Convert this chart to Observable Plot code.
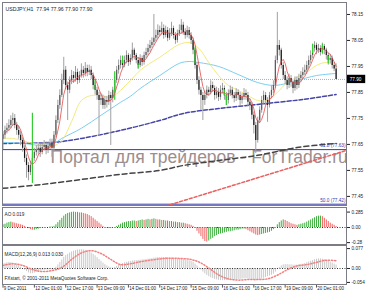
<!DOCTYPE html>
<html><head><meta charset="utf-8">
<script src="https://cdn.jsdelivr.net/npm/d3@7"></script>
<script src="https://cdn.jsdelivr.net/npm/@observablehq/plot@0.6"></script>
<style>
body{margin:0;background:#fff;}
#c{position:relative;width:366px;height:293px;overflow:hidden;background:#fff;}
#c svg{position:absolute;left:0;}
</style></head><body><div id="c"></div>
<script>
// ---------- DATA ----------
const opens=[77.670,77.685,77.704,77.712,77.723,77.742,77.750,77.723,77.704,77.685,
77.665,77.635,77.596,77.569,77.542,77.569,77.596,77.619,77.627,77.635,
77.619,77.638,77.646,77.627,77.642,77.654,77.635,77.685,77.742,77.800,
77.838,77.896,77.935,77.877,77.858,77.896,77.915,77.904,77.927,77.896,
77.915,77.935,77.923,77.942,77.927,77.935,77.915,77.877,77.858,77.838,
77.819,77.827,77.800,77.819,77.812,77.838,77.827,77.858,77.896,77.935,
77.954,77.973,77.954,77.973,77.992,77.965,77.981,78.012,77.992,77.973,
77.954,77.981,77.965,77.992,78.004,78.019,78.031,78.042,78.058,78.069,
78.088,78.081,78.096,78.069,78.088,78.058,78.077,78.096,78.069,78.050,
78.077,78.088,78.108,78.081,78.069,78.088,78.069,78.050,78.012,77.954,
77.896,77.858,77.838,77.819,77.838,77.858,77.850,77.877,77.865,77.838,
77.850,77.831,77.858,77.865,77.838,77.819,77.846,77.858,77.838,77.827,
77.850,77.838,77.819,77.831,77.846,77.838,77.812,77.800,77.762,77.723,
77.665,77.742,77.781,77.819,77.838,77.819,77.800,77.838,77.858,77.877,
77.973,78.031,78.012,77.954,77.915,77.896,77.877,77.904,77.888,77.865,
77.896,77.877,77.904,77.915,77.927,77.935,77.954,77.973,77.992,78.019,
78.031,78.012,78.019,78.004,78.027,78.012,77.992,77.973,77.981,77.954,77.940];
const closes=[77.685,77.704,77.712,77.723,77.742,77.750,77.723,77.704,77.685,77.665,
77.635,77.596,77.569,77.542,77.569,77.596,77.619,77.627,77.635,77.619,
77.638,77.646,77.627,77.642,77.654,77.635,77.685,77.742,77.800,77.838,
77.896,77.935,77.877,77.858,77.896,77.915,77.904,77.927,77.896,77.915,
77.935,77.923,77.942,77.927,77.935,77.915,77.877,77.858,77.838,77.819,
77.827,77.800,77.819,77.812,77.838,77.827,77.858,77.896,77.935,77.954,
77.973,77.954,77.973,77.992,77.965,77.981,78.012,77.992,77.973,77.954,
77.981,77.965,77.992,78.004,78.019,78.031,78.042,78.058,78.069,78.088,
78.081,78.096,78.069,78.088,78.058,78.077,78.096,78.069,78.050,78.077,
78.088,78.108,78.081,78.069,78.088,78.069,78.050,78.012,77.954,77.896,
77.858,77.838,77.819,77.838,77.858,77.850,77.877,77.865,77.838,77.850,
77.831,77.858,77.865,77.838,77.819,77.846,77.858,77.838,77.827,77.850,
77.838,77.819,77.831,77.846,77.838,77.812,77.800,77.762,77.723,77.665,
77.742,77.781,77.819,77.838,77.819,77.800,77.838,77.858,77.877,77.973,
78.031,78.012,77.954,77.915,77.896,77.877,77.904,77.888,77.865,77.896,
77.877,77.904,77.915,77.927,77.935,77.954,77.973,77.992,78.019,78.031,
78.012,78.019,78.004,78.027,78.012,77.992,77.973,77.981,77.954,77.940,77.900];
const highs=[77.700,77.720,77.730,77.745,77.760,77.770,77.765,77.735,77.720,77.700,
77.675,77.645,77.610,77.580,77.585,77.610,77.635,77.645,77.650,77.650,
77.655,77.665,77.660,77.660,77.670,77.670,77.700,77.760,77.820,77.860,
77.920,77.985,77.950,77.890,77.910,77.935,77.930,77.950,77.940,77.930,
77.960,77.950,77.965,77.955,77.955,77.950,77.925,77.890,77.870,77.850,
77.845,77.840,77.835,77.835,77.855,77.850,77.870,77.910,77.950,77.975,
77.990,77.985,77.990,78.010,78.000,77.995,78.040,78.020,78.000,77.985,
77.995,77.990,78.005,78.020,78.035,78.050,78.060,78.150,78.090,78.110,
78.105,78.120,78.110,78.105,78.100,78.095,78.120,78.105,78.080,78.090,
78.110,78.130,78.120,78.095,78.105,78.100,78.080,78.060,78.025,77.965,
77.910,77.870,77.850,77.855,77.875,77.870,77.895,77.890,77.875,77.870,
77.865,77.875,77.885,77.875,77.850,77.860,77.875,77.870,77.850,77.865,
77.860,77.850,77.845,77.865,77.860,77.850,77.825,77.810,77.775,77.735,
77.755,77.795,77.835,77.855,77.850,77.830,77.850,77.875,77.895,77.990,
78.158,78.050,78.020,77.965,77.930,77.910,77.920,77.915,77.895,77.910,
77.910,77.920,77.930,77.945,77.955,77.970,77.990,78.010,78.035,78.045,
78.040,78.035,78.030,78.040,78.035,78.020,78.000,77.995,77.990,77.965,77.960];
const lows=[77.630,77.670,77.690,77.700,77.710,77.720,77.710,77.685,77.670,77.645,
77.620,77.580,77.520,77.510,77.530,77.555,77.585,77.605,77.610,77.600,
77.610,77.625,77.610,77.615,77.630,77.600,77.620,77.675,77.730,77.785,
77.830,77.880,77.860,77.742,77.845,77.880,77.885,77.890,77.880,77.885,
77.905,77.905,77.910,77.910,77.915,77.900,77.860,77.840,77.820,77.680,
77.800,77.785,77.785,77.790,77.800,77.646,77.810,77.845,77.885,77.920,
77.940,77.940,77.945,77.960,77.950,77.955,77.970,77.975,77.960,77.940,
77.945,77.950,77.955,77.980,77.990,78.005,78.020,78.030,78.045,78.055,
78.065,78.070,78.055,78.060,78.045,78.050,78.065,78.055,78.035,78.040,
78.065,78.075,78.070,78.055,78.060,78.055,78.035,77.995,77.940,77.880,
77.840,77.781,77.742,77.800,77.825,77.835,77.840,77.850,77.820,77.825,
77.815,77.820,77.845,77.820,77.800,77.805,77.835,77.825,77.810,77.815,
77.820,77.800,77.805,77.820,77.820,77.795,77.780,77.745,77.690,77.615,
77.655,77.730,77.770,77.805,77.800,77.735,77.790,77.825,77.845,77.865,
77.960,77.990,77.940,77.900,77.880,77.860,77.865,77.870,77.845,77.855,
77.860,77.865,77.890,77.900,77.915,77.920,77.940,77.960,77.980,78.005,
77.995,78.000,77.990,77.995,77.995,77.975,77.955,77.960,77.940,77.930,77.900];

// moving averages (bar index, price)
const yellowBars=[0,5,10,15,20,25,30,35,40,45,50,55,60,65,70,75,80,85,90,95,100,105,110,115,120,125,130,135,140,145,150,155,160,165,170];
const yellowVals=[77.673,77.673,77.665,77.654,77.650,77.642,77.665,77.738,77.819,77.838,77.838,77.831,77.858,77.896,77.935,77.962,77.985,78.012,78.035,78.042,78.019,77.965,77.915,77.877,77.858,77.838,77.819,77.819,77.850,77.888,77.908,77.927,77.954,77.965,77.950];
const cyanBars=[0,10,20,26,30,40,50,60,65,70,80,90,95,100,110,120,130,138,145,150,160,170];
const cyanVals=[77.658,77.654,77.646,77.654,77.673,77.712,77.762,77.812,77.835,77.865,77.915,77.962,77.969,77.965,77.950,77.919,77.888,77.877,77.885,77.896,77.915,77.923];
const blueBars=[0,26,40,60,80,92,110,130,153,170];
const blueVals=[77.654,77.658,77.673,77.704,77.742,77.769,77.788,77.804,77.823,77.842];
const blackBars=[0,20,40,60,80,92,110,130,150,170];
const blackVals=[77.481,77.496,77.515,77.535,77.550,77.569,77.588,77.608,77.638,77.654];
const trendBars=[78,175.3];
const trendVals=[77.401,77.627];
const greenBars=[15,47,57,61,69,98,113,114,158,163,166];
const greenLows=[77.50,77.86,77.82,77.96,77.94,77.96,77.835,77.80,78.00,78.00,77.96];
const greenHighs=[77.77,77.90,77.93,77.99,77.96,78.02,77.86,77.84,78.035,78.035,77.99];

const fibLevels=[77.63,77.42];
const fibLabels=["61.8 (77.63)","50.0 (77.42)"];
const askPrice=77.90;
const priceTicks=[78.15,78.05,77.95,77.85,77.75,77.65,77.55,77.45];

const aoValues=[0.05,0.06,0.08,0.09,0.10,0.09,0.08,0.07,0.06,0.05,0.04,
0.02,0.00,-0.02,-0.04,-0.05,-0.05,-0.04,-0.03,-0.02,-0.01,
-0.01,0.00,0.00,0.01,0.01,0.02,0.05,0.09,0.13,0.17,
0.21,0.24,0.26,0.27,0.28,0.285,0.28,0.28,0.27,0.27,
0.26,0.25,0.24,0.22,0.20,0.17,0.14,0.11,0.08,0.05,
0.02,0.00,-0.01,-0.02,-0.02,-0.01,0.00,0.02,0.04,0.06,
0.08,0.09,0.10,0.11,0.11,0.12,0.12,0.11,0.12,0.13,
0.14,0.13,0.14,0.15,0.14,0.15,0.16,0.15,0.14,0.14,
0.13,0.13,0.12,0.12,0.11,0.11,0.10,0.10,0.09,0.09,
0.08,0.08,0.07,0.06,0.05,0.04,0.02,-0.02,-0.07,-0.12,
-0.17,-0.22,-0.26,-0.27,-0.25,-0.22,-0.20,-0.17,-0.15,-0.13,
-0.12,-0.11,-0.10,-0.09,-0.08,-0.08,-0.07,-0.06,-0.05,-0.05,
-0.04,-0.03,-0.03,-0.04,-0.06,-0.08,-0.10,-0.12,-0.14,-0.15,
-0.14,-0.13,-0.12,-0.11,-0.10,-0.09,-0.07,-0.04,0.00,0.05,
0.09,0.12,0.14,0.13,0.11,0.09,0.07,0.06,0.05,0.04,
0.05,0.06,0.07,0.08,0.10,0.12,0.14,0.16,0.18,0.20,
0.21,0.21,0.20,0.17,0.14,0.11,0.08,0.06,0.04,0.019];
const aoTicks=[0.285,0,-0.28];
const aoTickLabels=["0.285","0.00","-0.28"];

const macdValues=[0.018,0.020,0.022,0.023,0.022,0.021,0.018,0.015,0.010,0.005,0.000,
-0.006,-0.012,-0.017,-0.020,-0.020,-0.018,-0.015,-0.012,-0.010,-0.008,
-0.007,-0.006,-0.006,-0.005,-0.006,-0.003,0.005,0.014,0.023,0.033,
0.043,0.050,0.055,0.060,0.064,0.067,0.069,0.071,0.072,0.073,
0.072,0.070,0.068,0.065,0.060,0.055,0.049,0.042,0.035,0.028,
0.021,0.015,0.010,0.006,0.003,0.002,0.004,0.008,0.012,0.016,
0.019,0.022,0.024,0.026,0.027,0.029,0.030,0.030,0.031,0.032,
0.033,0.034,0.035,0.036,0.037,0.038,0.040,0.041,0.042,0.042,
0.043,0.042,0.042,0.041,0.040,0.040,0.039,0.038,0.037,0.036,
0.036,0.035,0.034,0.032,0.030,0.027,0.023,0.017,0.010,0.002,
-0.006,-0.014,-0.021,-0.027,-0.032,-0.036,-0.039,-0.042,-0.044,-0.046,
-0.047,-0.047,-0.047,-0.046,-0.046,-0.045,-0.045,-0.044,-0.044,-0.043,
-0.042,-0.041,-0.040,-0.040,-0.041,-0.042,-0.043,-0.044,-0.045,-0.045,
-0.043,-0.041,-0.038,-0.035,-0.032,-0.029,-0.026,-0.022,-0.014,-0.004,
0.004,0.010,0.014,0.015,0.015,0.014,0.014,0.013,0.013,0.013,
0.014,0.015,0.017,0.019,0.022,0.025,0.028,0.031,0.034,0.036,
0.037,0.037,0.036,0.034,0.031,0.028,0.025,0.021,0.017,0.013];
const signalBars=[0,5,10,15,20,25,30,35,40,45,50,55,60,65,70,75,80,85,90,95,100,105,110,115,120,125,130,135,140,145,150,155,160,165,170];
const signalVals=[0.012,0.018,0.012,-0.004,-0.012,-0.008,0.004,0.035,0.060,0.069,0.058,0.035,0.015,0.018,0.026,0.032,0.037,0.040,0.039,0.036,0.025,0.002,-0.025,-0.040,-0.045,-0.043,-0.043,-0.040,-0.026,-0.005,0.010,0.015,0.024,0.032,0.030];
const macdTicks=[0.077,0,-0.054];
const macdTickLabels=["0.077","0.00","-0.054"];

const timeTicks=[0,16,32,48,64,80,96,112,128,144,160];
const timeLabels=["9 Dec 2011","12 Dec 01:00","12 Dec 17:00","13 Dec 09:00","14 Dec 01:00","14 Dec 17:00","15 Dec 09:00","16 Dec 01:00","16 Dec 17:00","19 Dec 09:00","20 Dec 01:00"];

const headerText="USDJPY,H1  77.94 77.96 77.90 77.90";
const aoTitle="AO 0.019";
const macdTitle="MACD(12,26,9) 0.013 0.030";
const copyright="FXstart, © 2001-2011 MetaQuotes Software Corp.";
const watermark="Портал для трейдеров - ForTrader.ru";

// ---------- BUILD ----------
const bars=closes.map((c,i)=>({i,open:opens[i],high:highs[i],low:lows[i],close:c}));
const pts=(b,v)=>b.map((x,k)=>({x,y:v[k]}));
const greens=greenBars.map((b,k)=>({i:b,lo:greenLows[k],hi:greenHighs[k]}));
const ao=aoValues.map((v,i)=>({i,v,up:i===0?true:v>=aoValues[i-1]}));
const macd=macdValues.map((v,i)=>({i,v}));
const XDOM=[-0.26,175.3];
const FONT="'Liberation Sans', Arial, sans-serif";
const baseStyle={fontFamily:FONT,fontSize:"4.7px",background:"transparent",color:"#222",overflow:"visible"};
const frameColor="#7c7c84";

const main=Plot.plot({
  width:366,height:207,marginTop:2,marginBottom:2,marginLeft:2,marginRight:20,
  style:baseStyle,
  x:{domain:XDOM,axis:null},
  y:{domain:[77.415,78.196],axis:"right",ticks:priceTicks,tickFormat:d=>d.toFixed(2),tickSize:3,tickPadding:2,label:null},
  marks:[
    Plot.text([watermark],{x:24.3,y:77.600,text:d=>d,textAnchor:"start",fontSize:17.5,fill:"#9d8e8e",fontFamily:FONT}),
    Plot.ruleY(fibLevels,{stroke:"#3a3aa8",strokeWidth:1}),
    Plot.ruleY([askPrice],{stroke:"#9fb0cc",strokeDasharray:"1,1"}),
    Plot.line(pts(blackBars,blackVals),{x:"x",y:"y",stroke:"#444",strokeDasharray:"5,3",curve:"catmull-rom"}),
    Plot.line(pts(trendBars,trendVals),{x:"x",y:"y",stroke:"#e86060",strokeDasharray:"3,2",clip:true}),
    Plot.line(pts(blueBars,blueVals),{x:"x",y:"y",stroke:"#4545a8",strokeDasharray:"4,2",curve:"catmull-rom"}),
    Plot.line(pts(cyanBars,cyanVals),{x:"x",y:"y",stroke:"#6cc8ee",strokeWidth:0.9,curve:"catmull-rom"}),
    Plot.line(pts(yellowBars,yellowVals),{x:"x",y:"y",stroke:"#f3e76e",strokeWidth:0.9,curve:"catmull-rom"}),
    Plot.ruleX(bars,{x:"i",y1:"low",y2:"high",stroke:"#a0a0a0",strokeWidth:1}),
    Plot.ruleX(bars,{filter:d=>d.close<d.open,x:"i",y1:"open",y2:"close",stroke:"#151515",strokeWidth:1.2}),
    Plot.ruleX(bars,{filter:d=>d.close>=d.open,x:"i",y1:"open",y2:"close",stroke:"#5a5a5a",strokeWidth:1.2}),
    Plot.ruleX(greens,{x:"i",y1:"lo",y2:"hi",stroke:"#33cc33",strokeWidth:1.2}),
    Plot.lineY(bars,Plot.windowY({k:5,anchor:"end",reduce:"mean"},{x:"i",y:"close",stroke:"#e44848",strokeWidth:0.8})),
    Plot.text(fibLevels,{x:XDOM[1],y:d=>d,text:(d,i)=>fibLabels[i],textAnchor:"end",dx:-1,dy:-4,fontSize:4.7,fill:"#3a3aa8"}),
    Plot.text([headerText],{frameAnchor:"top-left",text:d=>d,dx:3,dy:5,textAnchor:"start",fontSize:5.2,fill:"#222"}),
    Plot.rect([askPrice],{x1:XDOM[1]+0.3,x2:XDOM[1]+9.8,y1:d=>d-0.016,y2:d=>d+0.016,fill:"#000"}),
    Plot.text([askPrice],{x:XDOM[1]+1.6,y:d=>d,text:d=>d.toFixed(2),textAnchor:"start",fontSize:4.7,fill:"#fff"}),
    Plot.frame({stroke:frameColor})
  ]
});

const aoPlot=Plot.plot({
  width:366,height:39,marginTop:1,marginBottom:1,marginLeft:2,marginRight:20,
  style:baseStyle,
  x:{domain:XDOM,axis:null},
  y:{domain:[-0.315,0.37],axis:"right",ticks:aoTicks,tickFormat:d=>aoTickLabels[aoTicks.indexOf(d)],tickSize:3,tickPadding:2,label:null},
  marks:[
    Plot.ruleY([0],{stroke:"#333",strokeDasharray:"1,1.5"}),
    Plot.ruleX(ao,{filter:d=>d.up,x:"i",y1:0,y2:"v",stroke:"#3fae3f",strokeWidth:1}),
    Plot.ruleX(ao,{filter:d=>!d.up,x:"i",y1:0,y2:"v",stroke:"#f06464",strokeWidth:1}),
    Plot.text([aoTitle],{frameAnchor:"top-left",text:d=>d,dx:2,dy:5,textAnchor:"start",fontSize:4.7,fill:"#222"}),
    Plot.frame({stroke:frameColor})
  ]
});

const macdPlot=Plot.plot({
  width:366,height:49,marginTop:1,marginBottom:9,marginLeft:2,marginRight:20,
  style:baseStyle,
  x:{domain:XDOM,axis:null},
  y:{domain:[-0.062,0.089],axis:"right",ticks:macdTicks,tickFormat:d=>macdTickLabels[macdTicks.indexOf(d)],tickSize:3,tickPadding:2,label:null},
  marks:[
    Plot.ruleX(macd,{x:"i",y1:0,y2:"v",stroke:"#c9c9c9",strokeWidth:1}),
    Plot.ruleY([0],{stroke:"#333",strokeDasharray:"1,1.5"}),
    Plot.line(pts(signalBars,signalVals),{x:"x",y:"y",stroke:"#f28080",strokeDasharray:"1.2,1.8",curve:"catmull-rom"}),
    Plot.text([macdTitle],{frameAnchor:"top-left",text:d=>d,dx:2,dy:7,textAnchor:"start",fontSize:4.7,fill:"#222"}),
    Plot.text([copyright],{frameAnchor:"bottom-left",text:d=>d,dx:2,dy:-5,textAnchor:"start",fontSize:4.7,fill:"#222"}),
    Plot.ruleX(timeTicks,{x:d=>d,y1:-0.062,y2:-0.076,stroke:"#555"}),
    Plot.text(timeTicks,{x:d=>d,frameAnchor:"bottom",text:(d,i)=>timeLabels[i],dy:5,dx:0.8,textAnchor:"start",fontSize:4.5,fill:"#222"}),
    Plot.frame({stroke:frameColor})
  ]
});

const c=document.getElementById("c");
main.style.top="0px";
aoPlot.style.top="206px";
macdPlot.style.top="244px";
c.append(main,aoPlot,macdPlot);
</script>
</body></html>
